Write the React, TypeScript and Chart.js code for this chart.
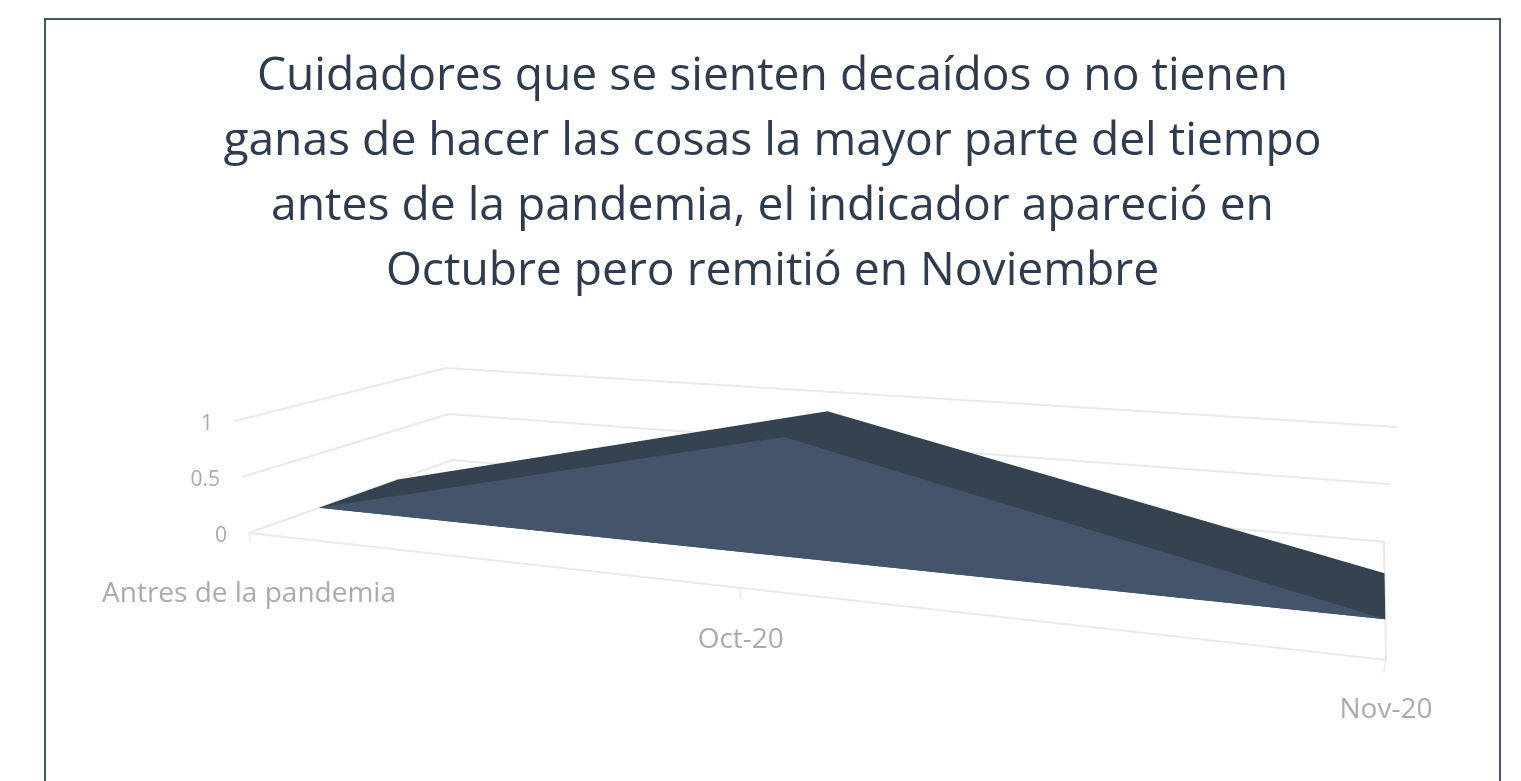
import React, { useEffect, useRef } from "react";
import { Chart, registerables } from "chart.js";

Chart.register(...registerables);

// ---- data
const categories = ["Antres de la pandemia", "Oct-20", "Nov-20"];
const values = [0, 1, 0];
const valueTicks = [0, 0.5, 1];
const titleLines = [
  "Cuidadores que se sienten decaídos o no tienen",
  "ganas de hacer las cosas la mayor parte del tiempo",
  "antes de la pandemia, el indicador apareció en",
  "Octubre pero remitió en Noviembre",
];

// ---- 3D box (page pixels) : [value][depth][side]
const FLOOR = { fl: [249, 533], fr: [1386, 660], bl: [452, 460], br: [1384, 541.7] };
const ROOF = { fl: [235, 421], fr: [1414, 511], bl: [446, 368], br: [1397, 427] };
const CAT_POS = [0, 0.4325, 1];
const DEPTH_FRONT = 0.345;
const DEPTH_BACK = 0.734;
const TICK_DROP = 0.085;

const lerp = (a: number, b: number, t: number) => a + (b - a) * t;
function project(cat: number, value: number, depth: number) {
  const s = CAT_POS[cat];
  const corner = (k: 0 | 1) => {
    const fl = lerp(FLOOR.fl[k], ROOF.fl[k], value);
    const fr = lerp(FLOOR.fr[k], ROOF.fr[k], value);
    const bl = lerp(FLOOR.bl[k], ROOF.bl[k], value);
    const br = lerp(FLOOR.br[k], ROOF.br[k], value);
    return lerp(lerp(fl, fr, s), lerp(bl, br, s), depth);
  };
  return { x: corner(0), y: corner(1) };
}

// ---- layout
const BOX_LEFT = 44;
const BOX_TOP = 18;
const BOX_W = 1457;
const BORDER = 2;
const CANVAS_W = BOX_W - 2 * BORDER;
const CANVAS_H = 781 - BOX_TOP - BORDER;
const TITLE_SIZE = 46.2;
const TITLE_LINE = 65;
const TITLE_PAD_TOP = 24;
const TITLE_PAD_BOTTOM = 6;
const TITLE_H = TITLE_PAD_TOP + TITLE_PAD_BOTTOM + TITLE_LINE * titleLines.length;

const GRID = "#E9E9E9";
const LABEL = "#ABABAB";
const FRONT = "#44546A";
const TOP = "#354250";
const TEXT_FONT = "'Open Sans'";
const catLabelDrop = [61, 52, 50];

const polygonPlugin = {
  id: "polygonFill",
  beforeDatasetDraw(chart: any, args: any) {
    const ds = chart.data.datasets[args.index];
    if (!ds.polygonColor) return;
    const pts = chart.getDatasetMeta(args.index).data;
    const ctx = chart.ctx;
    ctx.save();
    ctx.fillStyle = ds.polygonColor;
    ctx.beginPath();
    pts.forEach((p: any, i: number) => (i ? ctx.lineTo(p.x, p.y) : ctx.moveTo(p.x, p.y)));
    ctx.closePath();
    ctx.fill();
    ctx.restore();
  },
};

const labelPlugin = {
  id: "boxLabels",
  afterDraw(chart: any) {
    const { ctx, scales } = chart;
    ctx.save();
    ctx.fillStyle = LABEL;
    ctx.textBaseline = "middle";
    ctx.font = `21px ${TEXT_FONT}`;
    ctx.textAlign = "right";
    valueTicks.forEach((v) => {
      const p = project(0, v, 0);
      ctx.fillText(String(v), scales.x.getPixelForValue(p.x) - 22, scales.y.getPixelForValue(p.y) + 3);
    });
    ctx.font = `28px ${TEXT_FONT}`;
    ctx.textAlign = "center";
    categories.forEach((c, i) => {
      const p = project(i, 0, 0);
      ctx.fillText(c, scales.x.getPixelForValue(p.x), scales.y.getPixelForValue(p.y) + catLabelDrop[i]);
    });
    ctx.restore();
  },
};

const line = (label: string, data: { x: number; y: number }[], extra: any = {}) => ({
  label,
  data,
  showLine: true,
  pointRadius: 0,
  borderColor: GRID,
  borderWidth: 2,
  fill: false,
  tension: 0,
  ...extra,
});

export default function App() {
  const ref = useRef<HTMLCanvasElement>(null);
  useEffect(() => {
    const gridLines = valueTicks.map((v) =>
      line(`grid ${v}`, [project(0, v, 0), project(0, v, 1), project(2, v, 1)])
    );
    const floorEdge = line("floor", [project(0, 0, 0), project(2, 0, 0), project(2, 0, 1)]);
    const ticks = categories.map((c, i) =>
      line(`tick ${c}`, [project(i, 0, 0), project(i, -TICK_DROP, 0)], { borderWidth: 1.5 })
    );
    const frontEdge = values.map((v, i) => project(i, v, DEPTH_FRONT));
    const backEdge = values.map((v, i) => project(i, v, DEPTH_BACK)).reverse();
    // the dark top runs on under the front face so no seam shows between them
    const last = values.length - 1;
    const roof = line("Serie top", [frontEdge[0], frontEdge[last], ...backEdge], {
      borderWidth: 0,
      borderColor: "transparent",
      polygonColor: TOP,
    });
    const face = line("Serie", frontEdge, {
      borderWidth: 0,
      borderColor: "transparent",
      polygonColor: FRONT,
    });
    // earlier datasets are painted last in chart.js, so the front comes first
    const datasets = [face, roof, floorEdge, ...ticks, ...gridLines];
    const chart = new Chart(ref.current!, {
      type: "scatter",
      data: { datasets: datasets as any },
      plugins: [polygonPlugin, labelPlugin],
      options: {
        animation: false,
        responsive: false,
        layout: { padding: 0 },
        scales: {
          x: { type: "linear", display: false, min: BOX_LEFT + BORDER, max: BOX_LEFT + BORDER + CANVAS_W },
          y: {
            type: "linear",
            display: false,
            reverse: true,
            min: BOX_TOP + BORDER + TITLE_H,
            max: 781,
          },
        },
        plugins: {
          legend: { display: false },
          tooltip: { enabled: false },
          title: {
            display: true,
            text: titleLines,
            color: "#2F3B4E",
            align: "center",
            font: { family: TEXT_FONT, size: TITLE_SIZE, weight: "normal", lineHeight: TITLE_LINE / TITLE_SIZE },
            padding: { top: TITLE_PAD_TOP, bottom: TITLE_PAD_BOTTOM },
          },
        },
      } as any,
    });
    return () => chart.destroy();
  }, []);
  return (
    <div style={{ position: "fixed", inset: 0, overflow: "hidden", background: "#fff" }}>
      <div
        style={{
          position: "absolute",
          left: BOX_LEFT,
          top: BOX_TOP,
          width: BOX_W,
          height: 820,
          boxSizing: "border-box",
          border: `${BORDER}px solid ${FRONT}`,
        }}
      >
        <canvas ref={ref} width={CANVAS_W} height={CANVAS_H} style={{ display: "block" }} />
      </div>
    </div>
  );
}
